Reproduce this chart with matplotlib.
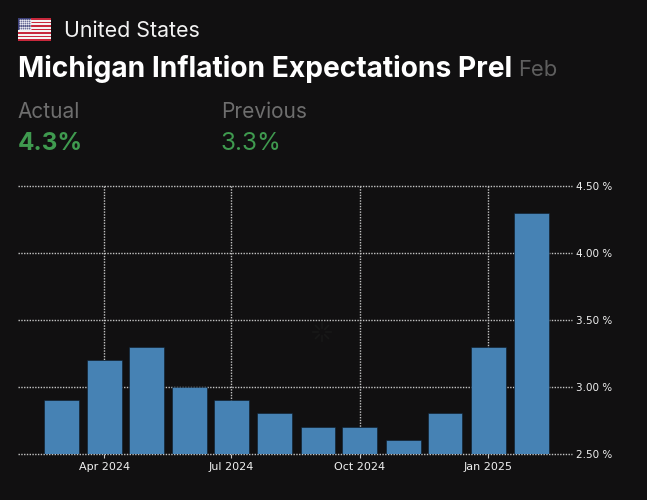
import numpy as np
import pandas as pd
import matplotlib
matplotlib.use('Agg')
import matplotlib.pyplot as plt
import matplotlib.dates as mdates
from matplotlib.patches import Rectangle

# ── Data ──────────────────────────────────────────────────────────────────────
months = pd.date_range('2024-03-01', '2025-02-01', freq='MS')
values = [2.9, 3.2, 3.3, 3.0, 2.9, 2.8, 2.7, 2.7, 2.6, 2.8, 3.3, 4.3]
y_ticks = [2.5, 3.0, 3.5, 4.0, 4.5]
x_ticks = pd.to_datetime(['2024-04-01', '2024-07-01', '2024-10-01', '2025-01-01'])
x_labels = ['Apr 2024', 'Jul 2024', 'Oct 2024', 'Jan 2025']

BG = '#111011'
W, H = 647, 500
fig = plt.figure(figsize=(W / 100, H / 100), dpi=100, facecolor=BG)

# ── Chart ─────────────────────────────────────────────────────────────────────
ax = fig.add_axes([18 / W, 1 - 453.5 / H, (572 - 18) / W, (453.5 - 186) / H], facecolor=BG)
ax.bar(mdates.date2num(months), values, width=25, bottom=0, color='#4682b4',
       edgecolor='#0c1a28', linewidth=0.4, zorder=3)
ax.set_ylim(2.5, 4.5)
ax.set_xlim(mdates.date2num(x_ticks[0]) - 61.9, mdates.date2num(x_ticks[0]) + 335)

dots = (0, (1, 1))
ax.set_yticks(y_ticks)
ax.set_yticklabels([f'{v:.2f} %' for v in y_ticks])
ax.set_xticks(mdates.date2num(x_ticks))
ax.set_xticklabels(x_labels)
ax.grid(True, color='#c4c4c4', linewidth=1.0, linestyle=dots, zorder=1)
for gl in ax.get_ygridlines():
    gl.set_clip_on(False)
ax.yaxis.tick_right()
ax.tick_params(axis='y', length=0, pad=3, labelsize=7.5, labelcolor='#f0f0f0')
ax.tick_params(axis='x', length=3, width=0.8, color='#c4c4c4', pad=3,
               labelsize=8, labelcolor='#f0f0f0')
for s in ax.spines.values():
    s.set_visible(False)

# ── Header, drawn in pixel coordinates ────────────────────────────────────────
ov = fig.add_axes([0, 0, 1, 1], facecolor='none')
ov.set_xlim(0, W)
ov.set_ylim(H, 0)
ov.axis('off')

# flag
fx, fy, fw, fh = 18, 18, 33, 23
for i in range(13):
    ov.add_patch(Rectangle((fx, fy + i * fh / 13), fw, fh / 13, linewidth=0,
                           facecolor='#c8283c' if i % 2 == 0 else '#f4f4f4'))
ov.add_patch(Rectangle((fx, fy), fw * 0.4, fh * 7 / 13, linewidth=0, facecolor='#3c3f78'))
sx, sy = np.meshgrid(np.linspace(fx + 1.5, fx + fw * 0.4 - 1.5, 6),
                     np.linspace(fy + 1.5, fy + fh * 7 / 13 - 1.5, 5))
ov.scatter(sx.ravel(), sy.ravel(), s=2.2, color='#e8e8f0', linewidths=0)

# faint loading spinner behind the grid
for a in np.radians(np.arange(0, 360, 45)):
    ov.plot([322 + 4 * np.cos(a), 322 + 9 * np.cos(a)], [332 + 4 * np.sin(a), 332 + 9 * np.sin(a)],
            color='#181818', linewidth=1.2)

font = ['Inter', 'DejaVu Sans']
ov.text(64, 31, 'United States', color='#f2f2f2', fontsize=15.4, family=font, va='center')
ov.text(18, 69, 'Michigan Inflation Expectations Prel', color='#ffffff', fontsize=20.3,
        family=font, fontweight='bold', va='center')
ov.text(518, 70, 'Feb', color='#5e5e5e', fontsize=15.8, family=font, va='center')
ov.text(17, 112, 'Actual', color='#6e6e6e', fontsize=15, family=font, va='center')
ov.text(221, 112, 'Previous', color='#6e6e6e', fontsize=15, family=font, va='center')
ov.text(18, 144, '4.3%', color='#3f9a4f', fontsize=17.5, family=font, fontweight='bold', va='center')
ov.text(221, 144, '3.3%', color='#3f9a4f', fontsize=17.5, family=font, va='center')

fig.savefig('out.png', dpi=100, facecolor=BG)
plt.close()
